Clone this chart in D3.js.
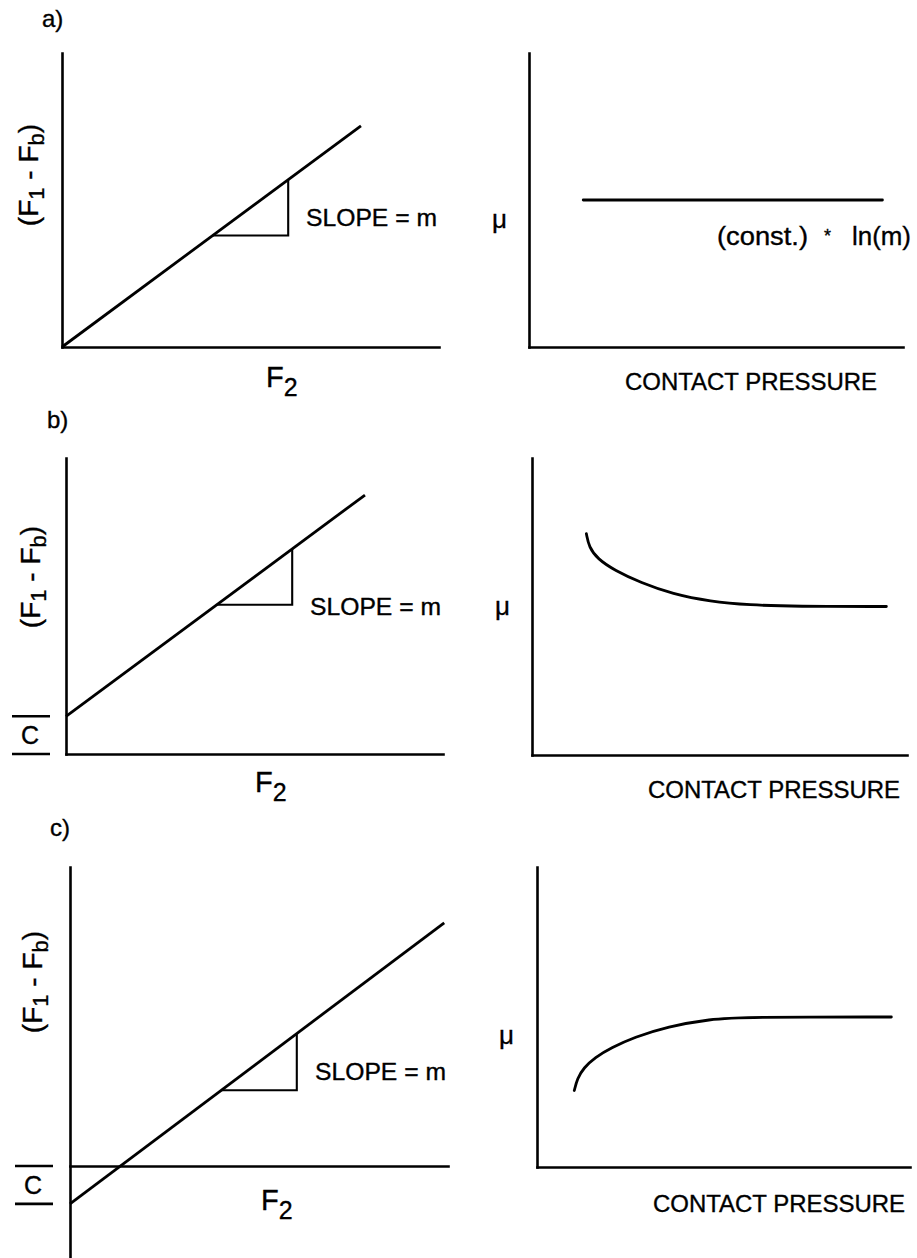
<!DOCTYPE html>
<html>
<head>
<meta charset="utf-8">
<script src="https://cdn.jsdelivr.net/npm/d3@7"></script>
<style>
  html, body { margin: 0; padding: 0; background: #fff; }
  svg { display: block; }
  text { font-family: "Liberation Sans", Arial, Helvetica, sans-serif; fill: #000;
         stroke: #000; stroke-width: 0.35; }
</style>
</head>
<body>
<svg id="fig" width="917" height="1258"></svg>
<script>
// ---- values ----
const panelLabels = ["a)", "b)", "c)"];

// left column: (F1 - Fb) = intercept + slope * F2
const slopeValues = [0.74, 0.74, 0.75];
const interceptValues = [0, 1.0, -1.0];
const lineEndF2 = [7.93, 7.93, 9.9];
const slopeMarkF2 = [4, 6];          // run of the rise-over-run triangle
const leftYDomains = [[0, 7.8], [0, 7.85], [-2.43, 7.9]];
const leftXDomain = [0, 10];

// right column: friction coefficient vs contact pressure
const muA_pressure = [1.45, 9.45];
const muA_value = [5.0, 5.0];
const muB_pressure = [1.45, 1.52, 1.75, 2.2, 2.9, 3.75, 4.75, 5.8, 7.0, 9.45];
const muB_value = [7.45, 7.0, 6.6, 6.22, 5.8, 5.42, 5.17, 5.05, 5.0, 5.0];
const muC_pressure = [1.0, 1.08, 1.25, 1.55, 2.0, 2.6, 3.5, 4.65, 5.55, 9.5];
const muC_value = [2.55, 2.95, 3.3, 3.65, 3.98, 4.32, 4.68, 4.93, 5.0, 5.0];
const rightDomain = [0, 10];

// text
const slopeText = "SLOPE = m";
const xLabelLeft = ["F", "2"];
const xLabelRight = "CONTACT PRESSURE";
const muSymbol = "\u03bc";
const interceptText = "C";
const constText = ["(const.)", "*", "ln(m)"];

// ---- layout (pixels) ----
const rows = [
  { label: [42, 27],
    left:  { x: [62, 439], y: [347, 53] },
    right: { x: [529, 903], y: [347, 53] },
    yLab: [38, 175], f2: [266, 387], slope: [306, 226],
    mu: [492, 228], cp: [625, 390] },
  { label: [47, 428],
    left:  { x: [66, 443], y: [754, 458] },
    right: { x: [532, 907], y: [755, 458] },
    yLab: [40, 577], f2: [255, 792], slope: [310, 615],
    mu: [495, 615], cp: [648, 798] },
  { label: [50, 836],
    left:  { x: [70, 448], y: [1258, 867] },
    right: { x: [537, 910], y: [1167, 867] },
    yLab: [42, 982], f2: [261, 1210], slope: [315, 1080],
    mu: [499, 1044], cp: [653, 1212] }
];
const muSeries = [
  d3.zip(muA_pressure, muA_value),
  d3.zip(muB_pressure, muB_value),
  d3.zip(muC_pressure, muC_value)
];

const svg = d3.select("#fig");
const AXIS_W = 2.6, LINE_W = 2.8, TRI_W = 2.1;

function styleAxis(g) {
  g.select(".domain").attr("stroke", "#000").attr("stroke-width", AXIS_W)
    .attr("stroke-linecap", "square");
  g.selectAll(".tick").remove();
}

rows.forEach((row, i) => {
  // panel letter
  svg.append("text").attr("x", row.label[0]).attr("y", row.label[1])
    .attr("font-size", 24).text(panelLabels[i]);

  // ---------- left panel ----------
  const x = d3.scaleLinear().domain(leftXDomain).range(row.left.x);
  const y = d3.scaleLinear().domain(leftYDomains[i]).range(row.left.y);
  const gL = svg.append("g");

  gL.append("g").attr("transform", `translate(0,${y(0)})`)
    .call(d3.axisBottom(x).tickValues([]).tickSizeOuter(0)).call(styleAxis);
  gL.append("g").attr("transform", `translate(${x(0)},0)`)
    .call(d3.axisLeft(y).tickValues([]).tickSizeOuter(0)).call(styleAxis);

  const f = v => interceptValues[i] + slopeValues[i] * v;
  const line = d3.line().x(d => x(d[0])).y(d => y(d[1]));

  gL.append("path")
    .datum([[0, f(0)], [lineEndF2[i], f(lineEndF2[i])]])
    .attr("d", line).attr("fill", "none").attr("stroke", "#000")
    .attr("stroke-width", LINE_W);

  const [r0, r1] = slopeMarkF2;
  gL.append("path")
    .datum([[r0, f(r0)], [r1, f(r0)], [r1, f(r1)]])
    .attr("d", line).attr("fill", "none").attr("stroke", "#000")
    .attr("stroke-width", TRI_W);

  gL.append("text").attr("x", row.slope[0]).attr("y", row.slope[1])
    .attr("font-size", 23.5).attr("textLength", 131).attr("lengthAdjust", "spacingAndGlyphs")
    .text(slopeText);

  // y label (F1 - Fb)
  const yl = gL.append("text")
    .attr("transform", `translate(${row.yLab[0]},${row.yLab[1]}) rotate(-90)`)
    .attr("text-anchor", "middle").attr("font-size", 28);
  yl.append("tspan").text("(F");
  yl.append("tspan").attr("font-size", 22).attr("dy", 6).text("1");
  yl.append("tspan").attr("dy", -6).text(" - F");
  yl.append("tspan").attr("font-size", 22).attr("dy", 6).text("b");
  yl.append("tspan").attr("dy", -6).text(")");

  // x label F2
  const xl = gL.append("text").attr("x", row.f2[0]).attr("y", row.f2[1])
    .attr("font-size", 29);
  xl.append("tspan").text(xLabelLeft[0]);
  xl.append("tspan").attr("font-size", 25).attr("dy", 9).attr("dx", 0).text(xLabelLeft[1]);

  // intercept marker C
  if (interceptValues[i] !== 0) {
    const yA = y(0), yB = y(interceptValues[i]);
    const cx = i === 1 ? [12, 50] : [15, 53];
    [yA, yB].forEach(yy => {
      gL.append("line").attr("x1", cx[0]).attr("x2", cx[1])
        .attr("y1", yy).attr("y2", yy)
        .attr("stroke", "#000").attr("stroke-width", 2.6);
    });
    gL.append("text").attr("x", (cx[0] + cx[1]) / 2 - 1)
      .attr("y", (yA + yB) / 2 + 9).attr("text-anchor", "middle")
      .attr("font-size", 25).text(interceptText);
  }

  // ---------- right panel ----------
  const xr = d3.scaleLinear().domain(rightDomain).range(row.right.x);
  const yr = d3.scaleLinear().domain(rightDomain).range(row.right.y);
  const gR = svg.append("g");

  gR.append("g").attr("transform", `translate(0,${yr(0)})`)
    .call(d3.axisBottom(xr).tickValues([]).tickSizeOuter(0)).call(styleAxis);
  gR.append("g").attr("transform", `translate(${xr(0)},0)`)
    .call(d3.axisLeft(yr).tickValues([]).tickSizeOuter(0)).call(styleAxis);

  const curve = d3.line().x(d => xr(d[0])).y(d => yr(d[1]))
    .curve(d3.curveBasis);
  gR.append("path").datum(muSeries[i]).attr("d", curve)
    .attr("fill", "none").attr("stroke", "#000").attr("stroke-width", LINE_W)
    .attr("stroke-linecap", "round");

  gR.append("text").attr("x", row.mu[0]).attr("y", row.mu[1])
    .attr("font-size", 26).text(muSymbol);

  gR.append("text").attr("x", row.cp[0]).attr("y", row.cp[1])
    .attr("font-size", 24).attr("textLength", 252).attr("lengthAdjust", "spacingAndGlyphs")
    .text(xLabelRight);

  if (i === 0) {
    gR.append("text").attr("x", 717).attr("y", 245).attr("font-size", 25)
      .attr("textLength", 91).attr("lengthAdjust", "spacingAndGlyphs").text(constText[0]);
    gR.append("text").attr("x", 824).attr("y", 242).attr("font-size", 18)
      .text(constText[1]);
    gR.append("text").attr("x", 852).attr("y", 245).attr("font-size", 25)
      .attr("textLength", 59).attr("lengthAdjust", "spacingAndGlyphs").text(constText[2]);
  }
});
</script>
</body>
</html>
